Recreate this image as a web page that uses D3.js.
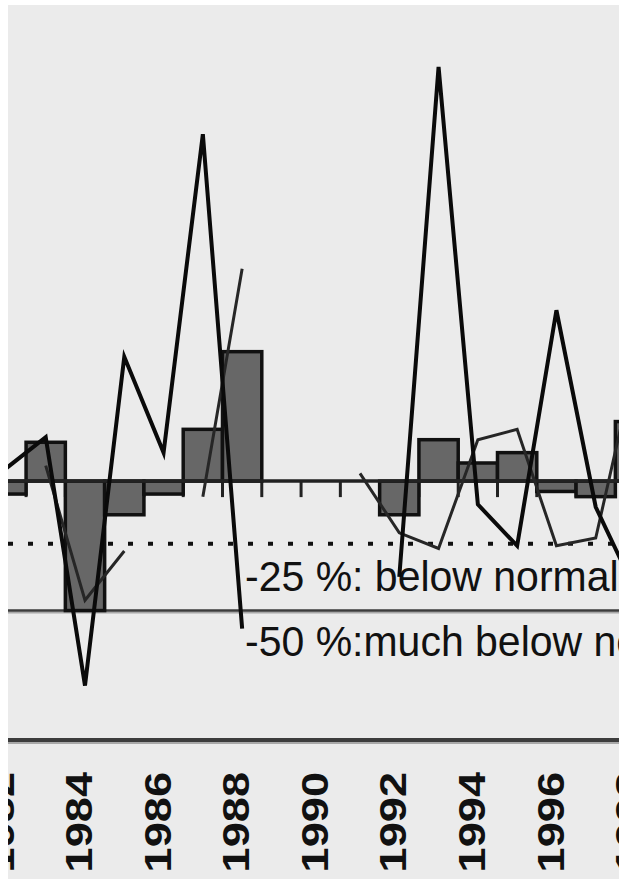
<!DOCTYPE html>
<html>
<head>
<meta charset="utf-8">
<script src="https://cdnjs.cloudflare.com/ajax/libs/d3/7.8.5/d3.min.js"></script>
<style>
body { margin: 0; background: #fff; }
svg { display: block; }
</style>
</head>
<body>
<div id="chart"></div>
<script>
// Rainfall anomaly chart, % departure from normal, one entry per year.
var years = d3.range(1982, 1999);
var barValues = [-5, 15, -50, -13, -5, 20, 50, null, null, null, -13, 16, 7, 11, -4, -6, 23];
var seriesA = [5, 17, -79, 48, 11, 134, -57, null, null, null, -37, 160, -9, -25, 66, -10, -42];
var seriesB = [null, 6, -46, -27, null, -6, 82, null, null, 3, -20, -26, 16, 20, -25, -22, 45];
var tickYears = [1982, 1984, 1986, 1988, 1990, 1992, 1994, 1996, 1998];
var refValues = [-25, -50];
var refLabels = ["-25 %: below normal", "-50 %:much below normal"];

var W = 619, H = 879;
var panel = {x: 8, y: 5};
var font = "'Liberation Sans', Arial, sans-serif";

var svg = d3.select("#chart").append("svg")
	.attr("width", W).attr("height", H);

svg.append("clipPath").attr("id", "panel-clip")
	.append("rect").attr("x", panel.x).attr("y", panel.y)
	.attr("width", W - panel.x).attr("height", H - panel.y);

svg.append("rect")
	.attr("x", panel.x).attr("y", panel.y)
	.attr("width", W - panel.x).attr("height", H - panel.y)
	.attr("fill", "#ebebeb");

var g = svg.append("g").attr("clip-path", "url(#panel-clip)");

var x = d3.scaleLinear().domain([1984, 1998]).range([85, 635]);
var y = d3.scaleLinear().domain([-100, 170]).range([740, 41]);
var step = x(1985) - x(1984);

// small ticks under the zero line at the year boundaries
g.append("g").selectAll("line")
	.data(d3.range(1981.5, 1999, 1))
	.join("line")
	.attr("x1", function (d) {return x(d);}).attr("x2", function (d) {return x(d);})
	.attr("y1", y(0)).attr("y2", y(0) + 16)
	.attr("stroke", "#222").attr("stroke-width", 3);

// reference lines
g.append("line")
	.attr("x1", panel.x).attr("x2", W).attr("y1", y(-25) - 2).attr("y2", y(-25) - 2)
	.attr("stroke", "#111").attr("stroke-width", 4).attr("stroke-dasharray", "5,15");
[-50, -100].forEach(function (v) {
	g.append("line")
		.attr("x1", panel.x).attr("x2", W).attr("y1", y(v) + 2).attr("y2", y(v) + 2)
		.attr("stroke", "#a8a8a8").attr("stroke-width", v == -100 ? 4 : 2);
	g.append("line")
		.attr("x1", panel.x).attr("x2", W).attr("y1", y(v)).attr("y2", y(v))
		.attr("stroke", "#3c3c3c").attr("stroke-width", v == -100 ? 4 : 2.5);
});

// bars
var barData = years.map(function (yr, i) {return {year: yr, v: barValues[i]};})
	.filter(function (d) {return d.v != null;});
g.append("g").selectAll("rect")
	.data(barData)
	.join("rect")
	.attr("x", function (d) {return x(d.year) - step/2;})
	.attr("width", step)
	.attr("y", function (d) {return Math.min(y(d.v), y(0));})
	.attr("height", function (d) {return Math.abs(y(d.v) - y(0));})
	.attr("fill", "#676767").attr("stroke", "#111").attr("stroke-width", 3.5);

// zero line
g.append("line")
	.attr("x1", panel.x).attr("x2", W).attr("y1", y(0)).attr("y2", y(0))
	.attr("stroke", "#222").attr("stroke-width", 3.5);

// annotation text
refValues.forEach(function (v, i) {
	g.append("text")
		.attr("transform", "translate(245," + (y(v) + 45) + ") scale(1,1.06)")
		.style("font", "41px " + font)
		.attr("fill", "#111")
		.text(refLabels[i]);
});

// lines
var line = d3.line()
	.defined(function (d) {return d.v != null;})
	.x(function (d) {return x(d.year);})
	.y(function (d) {return y(d.v);});

g.append("path")
	.datum(years.map(function (yr, i) {return {year: yr, v: seriesB[i]};}))
	.attr("d", line)
	.attr("fill", "none").attr("stroke", "#262626").attr("stroke-width", 3)
	.attr("stroke-linejoin", "miter");

g.append("path")
	.datum(years.map(function (yr, i) {return {year: yr, v: seriesA[i]};}))
	.attr("d", line)
	.attr("fill", "none").attr("stroke", "#0a0a0a").attr("stroke-width", 4)
	.attr("stroke-linejoin", "miter");

// year labels, rotated
var axis = d3.axisBottom(x).tickValues(tickYears).tickFormat(d3.format("d")).tickSize(0);
var ax = g.append("g").attr("transform", "translate(0,772)").call(axis);
ax.select(".domain").remove();
ax.selectAll("text")
	.attr("x", 0).attr("y", 0).attr("dy", "0.18em")
	.attr("text-anchor", "end")
	.attr("transform", "rotate(-90) scale(1.22,1)")
	.attr("fill", "#111")
	.style("font", "bold 37px " + font);
</script>
</body>
</html>
